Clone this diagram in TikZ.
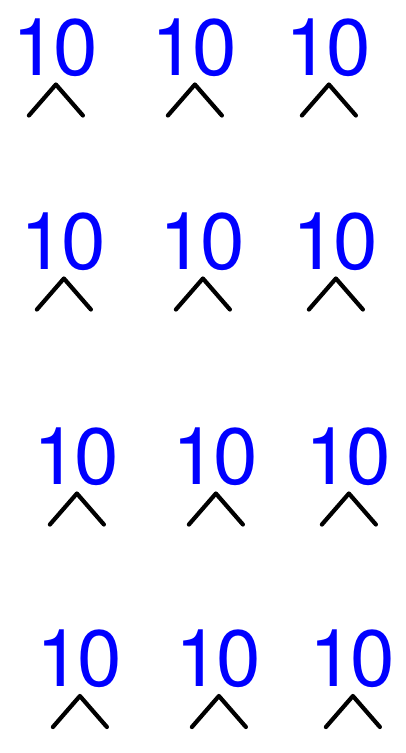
\documentclass[tikz,border=0pt]{standalone}
\usepackage{fontspec}
\setmainfont{TeX Gyre Heros}
\usetikzlibrary{calc}
\begin{document}
\begin{tikzpicture}[x=1pt,y=-1pt,
  num/.style={font=\fontsize{80}{90}\selectfont, text=blue, inner sep=0pt, anchor=base west},
  caret/.style={line width=4.2pt, line cap=round, line join=round, black}]
\useasboundingbox (0,0) rectangle (405,753);
\foreach \n/\x/\y in {a/11.9/75, b/150.9/75, c/284.9/75,
                      d/19.9/269, e/158.9/269, f/291.9/269,
                      g/32.9/484, h/171.9/484, i/304.9/484,
                      j/35.9/686.5, k/174.9/686.5, l/308.9/686.5}{
  \node[num] (\n) at (\x,\y) {1\kern-3.5pt0};
  \coordinate (\n t) at ($(\n.base west)+(44,9.5)$);
  \coordinate (\n l) at ($(\n t)+(-27,31)$);
  \coordinate (\n r) at ($(\n t)+(27,31)$);
  \draw[caret] (\n l) -- (\n t) -- (\n r);
}
\end{tikzpicture}
\end{document}
